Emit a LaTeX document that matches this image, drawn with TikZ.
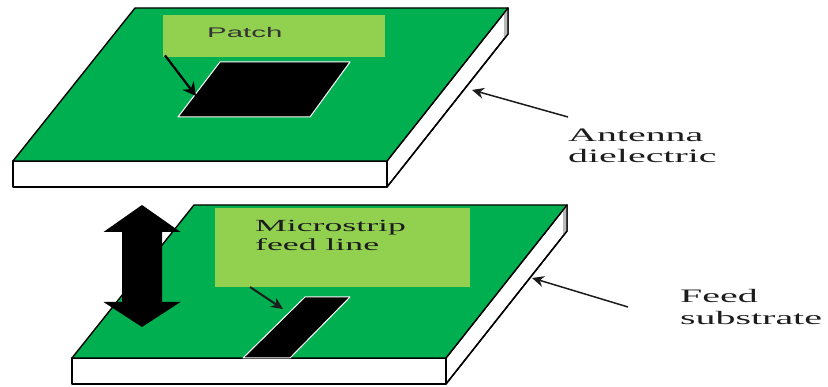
\documentclass[tikz,border=0pt]{standalone}
\usepackage{fontspec}
\setmainfont{Liberation Serif}
\newfontfamily\tagsans{Liberation Sans}
\usetikzlibrary{arrows.meta}
\definecolor{board}{HTML}{00B050}
\definecolor{tagfill}{HTML}{92D050}
\definecolor{ink}{HTML}{1C1C1C}
% labels are set wide, stretched sideways
\newcommand\widetext[1]{\scalebox{2.1}[1]{#1}}

\tikzset{
  edge/.style={draw=black, line width=1.4pt, line join=round},
  topface/.style={edge, fill=board},
  plainface/.style={edge, fill=white},
  metal/.style={fill=black, draw=white, line width=1pt, line join=round},
  tagbox/.style={fill=tagfill, draw=none, inner sep=0pt},
  textline/.style={inner sep=0pt, text=ink, anchor=base west},
  rightlabel/.style={textline, font=\fontsize{19}{21}\selectfont},
  pointer/.style={draw=ink, line width=1.5pt,
    -{Stealth[length=12pt, width=11pt]}},
  tagpointer/.style={draw=black, line width=2.2pt,
    -{Stealth[length=13pt, width=14pt]}},
}

% one dielectric slab, back-left corner at the scope origin
\newcommand\drawslab{%
  \path[plainface] (252,153) -- (373,0) -- (373,26) -- (252,179) -- cycle;
  \fill[gray!55] (373,0) -- (373,26) -- (369,31) -- (369,5) -- cycle;
  \draw[edge] (373,0) -- (373,26) -- (252,179);
  \path[plainface] (-122,153) rectangle (252,179);
  \path[topface] (0,0) -- (373,0) -- (252,153) -- (-122,153) -- cycle;
}

\begin{document}
\begin{tikzpicture}[x=1pt, y=-1pt]
  \useasboundingbox (0,0) rectangle (828,387);

  % antenna dielectric with the radiating patch
  \begin{scope}[shift={(135,8)}]
    \drawslab
  \end{scope}
  \path[metal] (220,62) -- (350,62) -- (310,117) -- (178,117) -- cycle;
  \node[tagbox, minimum width=222pt, minimum height=42pt, anchor=north west]
    (patchbox) at (163,15) {};
  \node[textline, text=black!80,
        font=\tagsans\fontsize{14}{16}\selectfont] (patchtag) at (207,38)
    {\widetext{Patch}};
  \coordinate (patchtip) at (196,96);
  \draw[tagpointer] (patchbox.south west) ++(2,-2) -- (patchtip);

  % feed substrate with the microstrip line
  \begin{scope}[shift={(194,205)}]
    \drawslab
  \end{scope}
  \path[metal] (305,297) -- (350,297) -- (290,358) -- (243,358) -- cycle;
  \node[tagbox, minimum width=255pt, minimum height=79pt, anchor=north west]
    (feedbox) at (215,208) {};
  \node[textline, font=\fontsize{17}{19}\selectfont] (feedtag) at (255,232)
    {\widetext{Microstrip}};
  \node[textline, font=\fontsize{17}{19}\selectfont] (feedtag2) at (255,251)
    {\widetext{feed line}};
  \coordinate (feedtail) at (250,287);
  \coordinate (feedtip) at (283,309);
  \draw[pointer, line width=2pt] (feedtail) -- (feedtip);

  % spacing between the two layers
  \fill[black] (142,205) -- (180.5,232) -- (162,232) -- (162,302)
    -- (180.5,302) -- (142,327) -- (103.5,302) -- (122,302)
    -- (122,232) -- (103.5,232) -- cycle;

  % side labels
  \node[rightlabel] (dielabel) at (568,142) {\widetext{Antenna}};
  \node[rightlabel] (dielabel2) at (568,163) {\widetext{dielectric}};
  \coordinate (dietail) at (568,117);
  \coordinate (dietip) at (472,90);
  \draw[pointer] (dietail) -- (dietip);

  \node[rightlabel] (sublabel) at (680,303) {\widetext{Feed}};
  \node[rightlabel] (sublabel2) at (680,325) {\widetext{substrate}};
  \coordinate (subtail) at (628,307);
  \coordinate (subtip) at (532,278);
  \draw[pointer] (subtail) -- (subtip);
\end{tikzpicture}
\end{document}
